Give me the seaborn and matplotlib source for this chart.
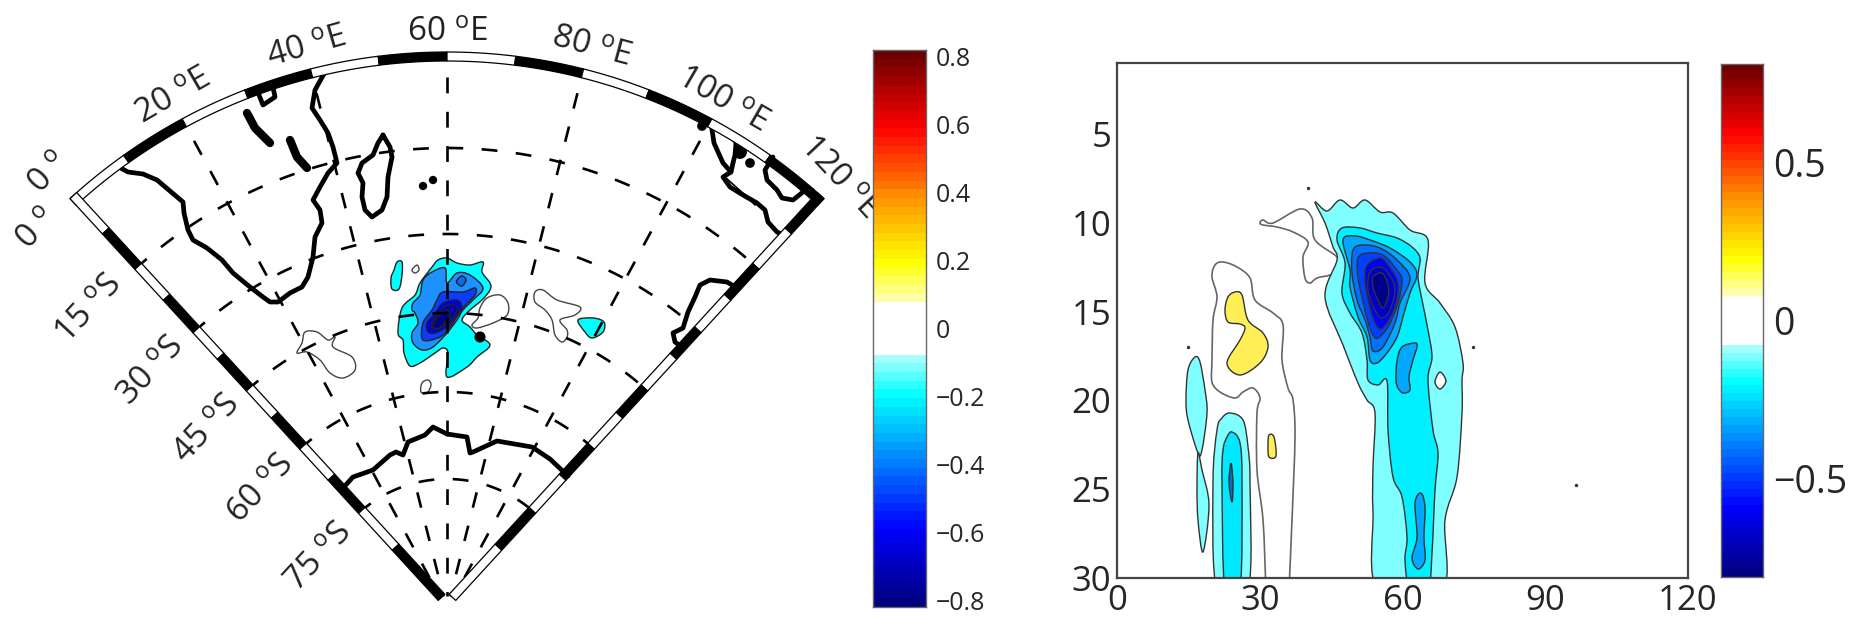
import numpy as np
import matplotlib
matplotlib.use("Agg")
import matplotlib.pyplot as plt
from matplotlib.colors import LinearSegmentedColormap
from matplotlib.patches import PathPatch
from matplotlib.path import Path
import seaborn as sns

# --- map graticule ---
lon_lines = [0, 20, 40, 60, 80, 100, 120]
lat_lines = [0, 15, 30, 45, 60, 75]
lat_radius = [558, 462, 376, 297, 218, 131]
edge_radius = [558, 510, 462, 420, 376, 340, 297, 260, 218, 176, 131, 81, 13]
lon_segments = [0, 10, 20, 30, 40, 50, 60, 70, 80, 90, 100, 110, 120]

lon_labels = ["20 $^o$E", "40 $^o$E", "60 $^o$E", "80 $^o$E", "100 $^o$E", "120 $^o$E"]
lon_label_x = [173, 307, 447, 591, 722, 838]
lon_label_y = [97, 48, 33, 48, 100, 178]
lon_label_rot = [30, 16, 0, -15, -30, -47]
lat_labels = ["0 $^o$", "0 $^o$", "15 $^o$S", "30 $^o$S", "45 $^o$S", "60 $^o$S", "75 $^o$S"]
lat_label_x = [50, 38, 90, 152, 208, 262, 320]
lat_label_y = [174, 230, 310, 372, 430, 490, 558]

# --- coast lines ---
africa = [(117,166),(128,172),(143,174),(157,180),(170,191),(183,202),(184,213),(188,230),(193,240),(207,248),(222,260),(233,273),(250,287),(263,297),(270,302),(278,302),(290,293),(302,287),(308,277),(313,257),(315,237),(322,223),(320,210),(313,200),(320,187),(328,173),(337,163),(333,147),(328,133),(320,120),(312,108),(315,90),(325,72)]
lake_a = [(257,90),(263,105),(275,97),(273,87)]
lake_b = [(247,113),(255,128),(270,143)]
lake_c = [(290,140),(297,157),(307,168)]
madagascar = [(383,135),(390,147),(392,157),(388,177),(387,197),(382,210),(372,217),(365,210),(362,197),(363,183),(358,173),(362,163),(373,155),(378,143),(383,135)]
sumatra = [(711,123),(714,143),(723,163),(731,172)]
java = [(732,135),(736,143),(735,155),(733,163),(731,172),(723,177),(730,187),(743,195),(757,203),(765,210),(768,222),(777,232),(783,235)]
java_thin = [(726,178),(745,195),(755,205)]
north_coast = [(773,157),(765,170),(767,180),(777,190),(782,198),(793,200),(803,192),(812,190)]
west_aus = [(737,288),(727,282),(710,280),(700,285),(695,297),(688,312),(683,328),(673,333),(675,342),(682,347)]
antarctica = [(343,488),(353,477),(373,470),(390,455),(396,452),(403,455),(408,442),(425,435),(433,427),(447,434),(467,437),(470,453),(473,452),(497,441),(532,447),(550,459),(568,476)]
island_x = [423, 433, 702, 740, 750, 480]
island_y = [186, 180, 126, 152, 163, 337]
island_size = [6, 6, 7, 10, 7, 8]

# --- map anomaly contours ---
map_cyan = [(447,258),(457,263),(470,265),(483,262),(482,272),(490,283),(490,290),(482,300),(470,310),(462,320),(470,327),(477,335),(490,345),(477,357),(467,367),(447,377),(448,353),(443,348),(435,353),(420,363),(410,366),(404,353),(403,340),(398,333),(402,308),(415,295),(420,283),(432,267),(438,260)]
map_azure = [(445,268),(447,283),(457,273),(470,275),(483,288),(473,300),(463,310),(457,320),(447,333),(433,347),(422,350),(413,343),(412,333),(418,323),(415,313),(412,310),(413,303),(420,295),(423,280),(432,272)]
map_blue = [(475,288),(475,295),(463,308),(450,327),(440,337),(423,340),(423,323),(432,310),(437,300),(443,292),(463,292)]
map_deep = [(457,300),(462,307),(457,315),(447,327),(435,333),(428,332),(427,323),(435,313),(443,303)]
map_darker = [(448,305),(458,308),(450,320),(440,328),(432,328),(433,320),(442,310)]
map_navy = [(447,310),(450,315),(440,327),(433,327),(437,318)]
map_oval = [(457,280),(462,276),(466,280),(462,286),(457,283)]
map_cyan_left = [(397,262),(402,262),(402,275),(399,289),(392,289),(391,278),(394,270)]
map_cyan_right = [(578,320),(593,318),(604,322),(603,332),(592,338),(585,332)]
map_open = [
    [(417,265),(419,270),(415,273),(412,270)],
    [(487,298),(500,295),(508,303),(507,315),(493,323),(477,328),(472,325),(478,318),(480,308)],
    [(535,292),(543,290),(557,300),(580,307),(575,315),(560,320),(567,330),(567,337),(562,342),(555,335),(552,320),(545,310),(535,302)],
    [(305,332),(317,332),(328,340),(335,337),(333,347),(352,357),(355,370),(343,378),(330,373),(320,360),(307,352),(297,353),(302,343)],
    [(421,392),(427,393),(431,385),(428,380),(422,383)],
]

# --- right panel contours, traced in picture pixels ---
outer = [(1315,202),(1327,211),(1340,200),(1353,208),(1365,200),(1380,212),(1393,213),(1410,230),(1428,240),(1425,283),(1440,303),(1455,327),(1463,363),(1462,380),(1462,413),(1457,477),(1445,520),(1442,590),(1378,590),(1373,513),(1373,467),(1375,413),(1367,400),(1358,383),(1343,345),(1325,297),(1337,260),(1333,247),(1325,223)]
diamond = [(1440,372),(1446,381),(1440,389),(1435,382)]
second = [(1342,228),(1360,228),(1377,233),(1397,238),(1412,247),(1420,258),(1418,277),(1422,300),(1428,330),(1432,357),(1428,380),(1433,430),(1438,453),(1435,490),(1432,553),(1428,590),(1410,590),(1405,560),(1407,537),(1402,497),(1393,477),(1388,430),(1387,381),(1378,385),(1368,380),(1367,360),(1362,333),(1350,313),(1342,293),(1345,263),(1337,240)]
azure = [(1343,240),(1355,236),(1370,240),(1390,248),(1410,262),(1417,275),(1410,293),(1403,317),(1397,337),(1387,353),(1377,363),(1370,360),(1367,337),(1358,317),(1350,287),(1350,270)]
level_4 = [(1353,250),(1363,245),(1380,248),(1397,260),(1410,278),(1400,303),(1395,323),(1383,347),(1373,351),(1370,337),(1365,320),(1357,300),(1352,273)]
level_5 = [(1358,258),(1367,253),(1383,255),(1397,270),(1402,280),(1398,303),(1388,327),(1378,338),(1373,335),(1368,322),(1362,297),(1358,277)]
level_6 = [(1367,265),(1380,258),(1388,265),(1398,283),(1395,307),(1383,328),(1375,323),(1368,300),(1365,280)]
level_7 = [(1370,272),(1380,267),(1388,273),(1395,288),(1390,310),(1382,318),(1375,310),(1368,290)]
level_8 = [(1373,277),(1382,273),(1388,285),(1388,297),(1383,308),(1377,298),(1373,287)]
azure_mid = [(1415,343),(1417,347),(1413,360),(1409,377),(1410,390),(1403,393),(1398,388),(1396,380),(1397,361),(1402,347)]
azure_low = [(1421,493),(1425,507),(1424,537),(1425,560),(1418,569),(1412,558),(1417,537),(1415,503)]
yellow_big = [(1235,292),(1242,295),(1248,320),(1263,333),(1268,347),(1260,363),(1240,375),(1227,363),(1240,340),(1245,328),(1240,324),(1228,322),(1225,310),(1228,297)]
yellow_small = [(1269,435),(1274,437),(1276,456),(1269,457),(1268,445)]
grey_big = [(1289,590),(1292,520),(1295,437),(1293,400),(1288,388),(1282,360),(1283,325),(1273,313),(1255,300),(1250,278),(1237,267),(1223,262),(1215,265),(1212,277),(1217,297),(1213,320),(1212,360),(1212,382),(1220,392),(1235,398),(1243,392),(1253,388),(1260,398),(1257,413),(1257,470),(1263,520),(1266,590)]
grey_top = [(1260,223),(1263,220),(1273,223),(1300,209),(1312,218),(1315,240),(1338,258),(1337,270),(1330,275),(1317,278),(1310,283),(1305,278),(1303,257),(1308,242),(1293,232),(1277,227),(1263,225)]
left_upper = [(1195,357),(1200,362),(1205,390),(1207,413),(1202,450),(1198,453),(1188,420),(1186,400),(1188,370)]
left_lower = [(1198,453),(1202,470),(1209,505),(1203,552),(1198,520),(1197,487)]
column_1 = [(1230,413),(1243,420),(1248,447),(1250,483),(1248,590),(1217,590),(1213,483),(1217,430),(1222,418)]
column_2 = [(1232,432),(1240,443),(1242,483),(1240,590),(1225,590),(1222,483),(1223,450),(1227,437)]
column_3 = [(1231,463),(1233,483),(1232,502),(1229,483)]
speck_x = [1308, 1188, 1473, 1576]
speck_y = [188, 347, 347, 485]

x_ticks = [0, 30, 60, 90, 120]
y_ticks = [5, 10, 15, 20, 25, 30]
left_cbar_ticks = [0.8, 0.6, 0.4, 0.2, 0, -0.2, -0.4, -0.6, -0.8]
right_cbar_ticks = [0.5, 0, -0.5]

anchor_vals = [-0.82, -0.6, -0.4, -0.2, -0.07, -0.0699, 0.0699, 0.07, 0.2, 0.4, 0.6, 0.82]
anchor_cols = ["#00007f", "#0000ff", "#007fff", "#00ffff", "#c8ffff", "#ffffff", "#ffffff",
               "#ffffd0", "#ffff00", "#ff8c00", "#ff0000", "#6a0000"]

W, H = 1855, 623
CX, CY = 447, 610
SPAN = 42.5


def polar(lon, r):
    t = np.radians((np.asarray(lon, float) - 60) / 60 * SPAN)
    return CX + r * np.sin(t), CY - r * np.cos(t)


def line(ax, pts, color="black", lw=3.4, z=5):
    xs, ys = zip(*pts)
    sns.lineplot(x=list(xs), y=list(ys), sort=False, estimator=None, color=color, linewidth=lw,
                 ax=ax, zorder=z, solid_joinstyle="round", solid_capstyle="round")


def patch(ax, pts, color, z=2, edge="#222222", lw=0.9):
    xs, ys = zip(*pts)
    ax.fill(xs, ys, facecolor=color, edgecolor=edge, linewidth=lw, zorder=z, joinstyle="round")


def smooth(ax, pts, color="none", z=2, edge="#222222", lw=1.0, closed=True):
    # bezier through the traced points so the contours are not polygons
    p = np.array(pts, float)
    n = len(p)
    if closed:
        tan = (np.roll(p, -1, axis=0) - np.roll(p, 1, axis=0)) / 6
        pairs = [(i, (i + 1) % n) for i in range(n)]
    else:
        tan = np.gradient(p, axis=0) / 3
        pairs = [(i, i + 1) for i in range(n - 1)]
    verts = [p[0]]
    codes = [Path.MOVETO]
    for a, b in pairs:
        verts += [p[a] + tan[a], p[b] - tan[b], p[b]]
        codes += [Path.CURVE4] * 3
    ax.add_patch(PathPatch(Path(verts, codes), facecolor=color, edgecolor=edge, linewidth=lw, zorder=z))


def edge_band(ax, lon, sign, first_black):
    t = np.radians((lon - 60) / 60 * SPAN)
    u = np.array([np.sin(t), -np.cos(t)])
    n = sign * np.array([np.cos(t), np.sin(t)]) * 9
    c = np.array([CX, CY])
    for i in range(len(edge_radius) - 1):
        a = c + edge_radius[i] * u
        b = c + edge_radius[i + 1] * u
        black = (i % 2 == 1) != first_black
        patch(ax, [a, b, b + n, a + n], "black" if black else "white", z=7, edge="black", lw=0.9)


def draw_cbar(fig, box, ticks, font, top):
    ax = fig.add_axes([box[0] / W, 1 - box[3] / H, (box[2] - box[0]) / W, (box[3] - box[1]) / H], zorder=10)
    levels = np.linspace(top, -top, 64).reshape(-1, 1)
    norm_pos = [(v + 0.82) / 1.64 for v in anchor_vals]
    cmap = LinearSegmentedColormap.from_list("jetw", list(zip(norm_pos, anchor_cols)), N=256)
    sns.heatmap(levels, cmap=cmap, vmin=-0.82, vmax=0.82, cbar=False, xticklabels=False, ax=ax)
    ax.set_yticks([(top - v) / (2 * top) * 64 for v in ticks])
    ax.set_yticklabels([f"{v:g}".replace("-", "\u2212") for v in ticks], rotation=0, fontsize=font)
    ax.tick_params(axis="y", left=True, right=True, labelleft=False, labelright=True,
                   direction="in", length=4, width=1, color="#333333", pad=7)
    for s in ax.spines.values():
        s.set_visible(True)
        s.set_color("#666666")
        s.set_linewidth(1.0)
    return ax


def main():
    sns.set_theme(style="white")
    plt.rcParams["font.family"] = ["Open Sans", "DejaVu Sans"]
    plt.rcParams["mathtext.default"] = "regular"
    plt.rcParams["text.color"] = "#222222"
    fig = plt.figure(figsize=(W / 100, H / 100), dpi=100)

    # left map, axes in reference pixels over the whole figure
    m = fig.add_axes([0, 0, 1, 1])
    m.set_xlim(0, W)
    m.set_ylim(H, 0)
    m.axis("off")

    smooth(m, map_cyan, "#00ffff", z=2)
    smooth(m, map_azure, "#1e90ff", z=2.1)
    smooth(m, map_oval, "#0a6cf0", z=2.2)
    smooth(m, map_blue, "#0a3cff", z=2.2)
    smooth(m, map_deep, "#0000e0", z=2.3)
    smooth(m, map_darker, "#0000b0", z=2.4)
    smooth(m, map_navy, "#000090", z=2.5)
    smooth(m, map_cyan_left, "#00ffff", z=2)
    smooth(m, map_cyan_right, "#00ffff", z=2)
    for pts in map_open:
        smooth(m, pts, edge="#444444", lw=1.0, z=2)

    fan = np.linspace(0, 120, 121)
    for r, lat in zip(lat_radius[1:], lat_lines[1:]):
        x, y = polar(fan, r)
        m.plot(x, y, color="black", lw=1.9, dashes=(6, 7), zorder=4)
    for lon in lon_lines[1:-1]:
        x, y = polar([lon, lon], np.array([533, 14]))
        m.plot(x, y, color="black", lw=1.9, dashes=(6, 7), zorder=4)

    for pts in [africa, madagascar, sumatra, java, north_coast, west_aus, antarctica, lake_a]:
        line(m, pts)
    line(m, lake_b, lw=6.0)
    line(m, lake_c, lw=6.0)
    line(m, java_thin, lw=1.2)
    m.scatter(island_x, island_y, s=[q ** 2 for q in island_size], color="black", zorder=5, linewidths=0)

    # frame: top arc then the two straight edges
    for i in range(len(lon_segments) - 1):
        arc = np.linspace(lon_segments[i], lon_segments[i + 1], 12)
        xo, yo = polar(arc, 558)
        xi, yi = polar(arc[::-1], 549)
        patch(m, list(zip(np.r_[xo, xi], np.r_[yo, yi])), "black" if i % 2 else "white", z=7, edge="black", lw=0.9)
    edge_band(m, 0, 1, False)
    edge_band(m, 120, -1, True)

    for s, x, y, r in zip(lon_labels, lon_label_x, lon_label_y, lon_label_rot):
        m.text(x, y, s, fontsize=24, rotation=r, ha="center", va="center", rotation_mode="anchor", zorder=8)
    for s, x, y in zip(lat_labels, lat_label_x, lat_label_y):
        m.text(x, y, s, fontsize=24, rotation=47, ha="center", va="center", rotation_mode="anchor", zorder=8)

    draw_cbar(fig, (873, 50, 926, 607), left_cbar_ticks, 18, 0.82)

    # right panel
    ax = fig.add_axes([1117 / W, 1 - 578 / H, (1688 - 1117) / W, (578 - 63) / H], zorder=5)
    ax.set_xlim(1117, 1688)
    ax.set_ylim(578, 63)
    for pts, col, z in [(outer, "#7fffff", 2), (second, "#00f0ff", 2.1), (azure, "#00a8ff", 2.2),
                        (level_4, "#0070ff", 2.3), (level_5, "#0040ff", 2.4), (level_6, "#0000ff", 2.5),
                        (level_7, "#0000c8", 2.6), (level_8, "#000088", 2.7), (azure_mid, "#00a8ff", 2.3),
                        (azure_low, "#00a8ff", 2.3), (diamond, "white", 2.3), (yellow_big, "#ffee55", 2),
                        (yellow_small, "#ffee55", 2), (left_upper, "#7fffff", 2), (left_lower, "#7fffff", 2),
                        (column_1, "#7fffff", 2), (column_2, "#00e8ff", 2.1), (column_3, "#0070d8", 2.2)]:
        smooth(ax, pts, col, z=z, edge="#333333", lw=1.0)
    smooth(ax, grey_big, edge="#666666", lw=1.2, z=1.9, closed=False)
    smooth(ax, grey_top, edge="#666666", lw=1.2, z=1.9)
    ax.scatter(speck_x, speck_y, s=6, color="#333333", linewidths=0, zorder=3)

    ax.set_xticks([1117 + v / 120 * 571 for v in x_ticks])
    ax.set_xticklabels(x_ticks, fontsize=25)
    ax.set_yticks([578 - (30 - v) * 17.76 for v in y_ticks])
    ax.set_yticklabels(y_ticks, fontsize=25)
    ax.tick_params(length=0, pad=4)
    for s in ax.spines.values():
        s.set_visible(True)
        s.set_color("#444444")
        s.set_linewidth(1.6)
        s.set_zorder(5)

    draw_cbar(fig, (1721, 64, 1763, 577), right_cbar_ticks, 27, 0.81)

    fig.savefig("out.png", dpi=100)


if __name__ == "__main__":
    main()
